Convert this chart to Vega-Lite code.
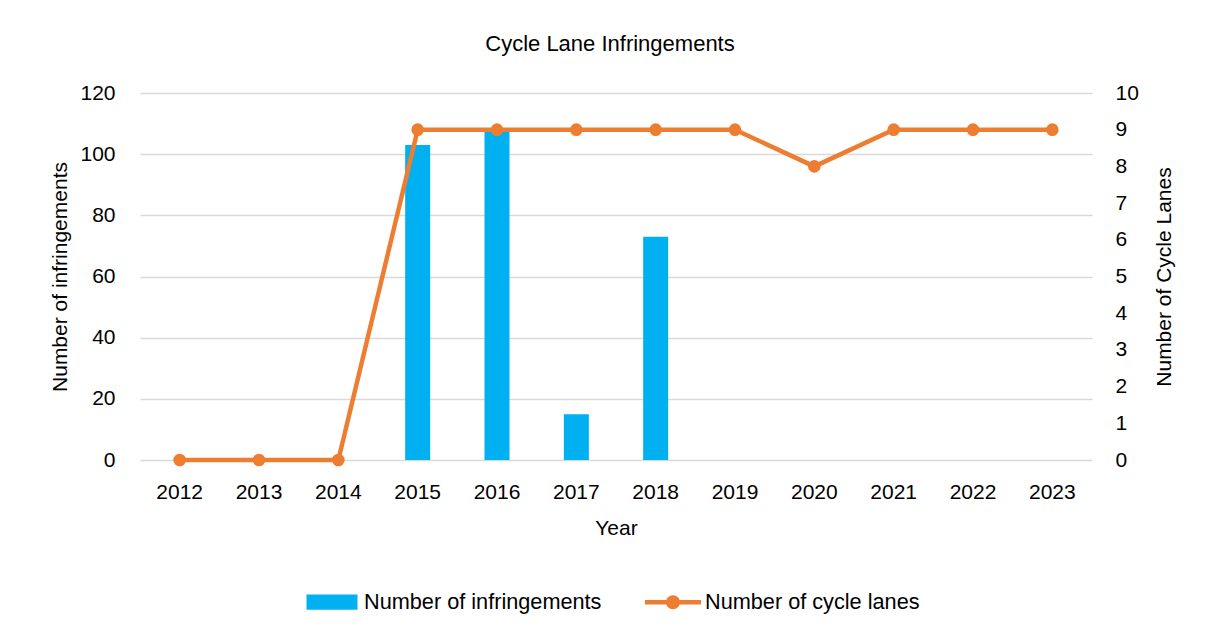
{
  "$schema": "https://vega.github.io/schema/vega-lite/v6.json",
  "width": 952,
  "height": 367,
  "autosize": {"type": "none"},
  "padding": {"left": 140, "top": 93, "right": 114, "bottom": 175},
  "background": "white",
  "title": {
    "text": "Cycle Lane Infringements",
    "font": "Liberation Sans",
    "fontSize": 22,
    "fontWeight": "normal",
    "color": "#000000",
    "anchor": "middle",
    "dx": -6,
    "offset": 26
  },
  "data": {
    "values": [
      {"year": "2012", "infringements": null, "lanes": 0},
      {"year": "2013", "infringements": null, "lanes": 0},
      {"year": "2014", "infringements": null, "lanes": 0},
      {"year": "2015", "infringements": 103, "lanes": 9},
      {"year": "2016", "infringements": 108, "lanes": 9},
      {"year": "2017", "infringements": 15, "lanes": 9},
      {"year": "2018", "infringements": 73, "lanes": 9},
      {"year": "2019", "infringements": null, "lanes": 9},
      {"year": "2020", "infringements": null, "lanes": 8},
      {"year": "2021", "infringements": null, "lanes": 9},
      {"year": "2022", "infringements": null, "lanes": 9},
      {"year": "2023", "infringements": null, "lanes": 9}
    ]
  },
  "encoding": {
    "x": {
      "field": "year",
      "type": "ordinal",
      "scale": {"paddingInner": 0, "paddingOuter": 0},
      "axis": {
        "title": "Year",
        "labelAngle": 0,
        "labelPadding": 21,
        "titlePadding": 15,
        "grid": false,
        "domain": false,
        "ticks": false
      }
    }
  },
  "layer": [
    {
      "mark": {"type": "bar", "size": 25, "color": "#00b0f0"},
      "encoding": {
        "y": {
          "field": "infringements",
          "type": "quantitative",
          "scale": {"domain": [0, 120], "nice": false},
          "axis": {
            "title": "Number of infringements",
            "values": [0, 20, 40, 60, 80, 100, 120],
            "grid": true,
            "gridColor": "#d9d9d9",
            "gridWidth": 1.5,
            "labelPadding": 25,
            "titlePadding": 9,
            "domain": false,
            "ticks": false
          }
        },
        "color": {
          "datum": "Number of infringements",
          "scale": {
            "domain": ["Number of infringements", "Number of cycle lanes"],
            "range": ["#00b0f0", "#ed7d31"]
          },
          "legend": {
            "orient": "none",
            "legendX": 164,
            "legendY": 481,
            "direction": "horizontal",
            "title": null,
            "padding": 0,
            "labelFont": "Liberation Sans",
            "labelFontSize": 21.7,
            "labelColor": "#000000",
            "labelLimit": 0,
            "labelOffset": 4,
            "columnPadding": 43,
            "symbolSize": 3136,
            "symbolType": "M-0.91,-0.27H0.91V0.27H-0.91Z",
            "symbolStrokeWidth": 0,
            "encode": {
              "symbols": {
                "update": {
                  "shape": {"signal": "datum.value === 'Number of cycle lanes' ? 'M-1,-0.08H1V0.08H-1Z M-0.25,0A0.25,0.25 0 1,1 0.25,0A0.25,0.25 0 1,1 -0.25,0Z' : 'M-0.91,-0.27H0.91V0.27H-0.91Z'"},
                  "fill": {"signal": "scale('color', datum.value)"},
                  "strokeWidth": {"value": 0},
                  "opacity": {"value": 1},
                  "fillOpacity": {"value": 1}
                }
              }
            }
          }
        }
      }
    },
    {
      "mark": {
        "type": "line",
        "strokeWidth": 4.5,
        "point": {"filled": true, "size": 160, "opacity": 1}
      },
      "encoding": {
        "y": {
          "field": "lanes",
          "type": "quantitative",
          "scale": {"domain": [0, 10], "nice": false},
          "axis": {
            "orient": "right",
            "title": "Number of Cycle Lanes",
            "values": [0, 1, 2, 3, 4, 5, 6, 7, 8, 9, 10],
            "grid": false,
            "labelPadding": 23,
            "titlePadding": 15,
            "titleAngle": 270,
            "titleBaseline": "top",
            "domain": false,
            "ticks": false
          }
        },
        "color": {"datum": "Number of cycle lanes"}
      }
    }
  ],
  "resolve": {"scale": {"y": "independent"}},
  "config": {
    "view": {"stroke": null},
    "axis": {
      "labelFont": "Liberation Sans",
      "labelFontSize": 21,
      "labelColor": "#000000",
      "titleFont": "Liberation Sans",
      "titleFontSize": 21,
      "titleFontWeight": "normal",
      "titleColor": "#000000"
    }
  }
}
